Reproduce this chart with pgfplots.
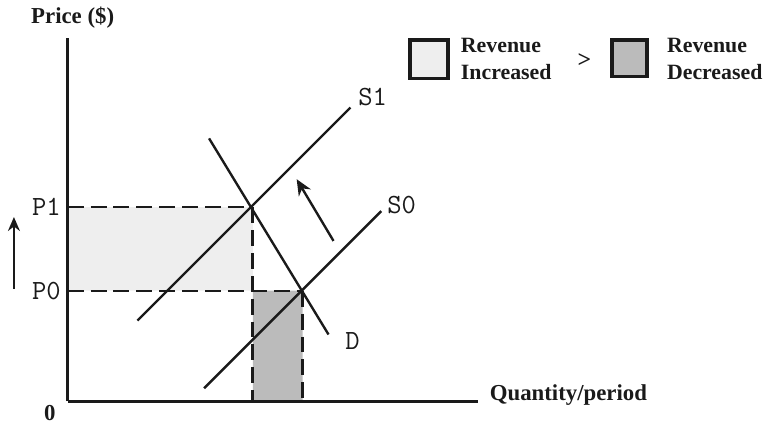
\documentclass[border=0pt]{standalone}
\usepackage{fontspec}
\setmainfont{Liberation Serif}
\usepackage{pgfplots}
\pgfplotsset{compat=1.18}
\usetikzlibrary{arrows.meta}
\definecolor{lightfill}{HTML}{EEEEEE}
\definecolor{darkfill}{HTML}{BBBBBB}
\definecolor{ink}{HTML}{1A1A1A}
\newcommand{\curvefont}{\ttfamily\fontsize{14}{14}\selectfont}

\begin{document}
\begin{tikzpicture}
\begin{axis}[
  scale only axis, width=206bp, height=182.5bp,
  xmin=0, xmax=412, ymin=0, ymax=365,
  axis lines=left, axis line style={-, line width=1.7pt, ink},
  axis on top,
  xtick=\empty, ytick={111,195}, yticklabels={P0,P1},
  major tick length=0pt,
  yticklabel style={font=\curvefont, text=ink},
  clip=false,
]
% page frame in the reference's proportions
\path (axis cs:-68,-22) rectangle (axis cs:701,403);

% revenue areas
\addplot[fill=lightfill, draw=none] coordinates {(0,111) (186,111) (186,195) (0,195) (0,111)};
\addplot[fill=darkfill, draw=none] coordinates {(186,0) (236,0) (236,111) (186,111) (186,0)};

% dashed guides
\addplot[ink, line width=1.2pt, dash pattern=on 8bp off 3.5bp] coordinates {(0,195) (186,195)};
\addplot[ink, line width=1.2pt, dash pattern=on 8bp off 3.5bp] coordinates {(0,111) (236,111)};
\addplot[ink, line width=1.5pt, dash pattern=on 8bp off 3.5bp] coordinates {(186,195) (186,0)};
\addplot[ink, line width=1.5pt, dash pattern=on 8bp off 3.5bp] coordinates {(236,111) (236,0)};

% supply and demand
\addplot[ink, line width=1.2pt] coordinates {(70,81) (284,295)};   % S1
\addplot[ink, line width=1.2pt] coordinates {(137,13) (315,191)};  % S0
\addplot[ink, line width=1.2pt] coordinates {(142,264) (262,67)};  % D

% shift arrows
\addplot[ink, line width=1.2pt, -{Stealth[length=8bp,width=7bp]}] coordinates {(267,161) (230,223)};
\addplot[ink, line width=1.1pt, -{Stealth[length=7bp,width=6bp]}] coordinates {(-54,113) (-54,185)};

% legend boxes
\addplot[fill=lightfill, draw=ink, line width=1.8pt, line cap=rect] coordinates {(344,324) (382,324) (382,363) (344,363) (344,324)};
\addplot[fill=darkfill, draw=ink, line width=1.8pt, line cap=rect] coordinates {(547,326) (582,326) (582,363) (547,363) (547,326)};

% labels
\node[anchor=west, font=\curvefont, text=ink] at (axis cs:285,306) {S1};
\node[anchor=west, font=\curvefont, text=ink] at (axis cs:314,197) {S0};
\node[font=\curvefont, text=ink] at (axis cs:286,60) {D};
\node[font=\bfseries\fontsize{11.5}{12}\selectfont, text=ink] at (axis cs:5,385) {Price (\$)};
\node[anchor=west, font=\bfseries\fontsize{11.5}{12}\selectfont, text=ink] at (axis cs:417,6) {Quantity/period};
\node[font=\bfseries\fontsize{11.5}{12}\selectfont, text=ink] at (axis cs:-18,-12) {0};
\node[anchor=west, align=left, font=\bfseries\fontsize{11}{13.5}\selectfont, text=ink] at (axis cs:388,344) {Revenue\\Increased};
\node[font=\bfseries\fontsize{12}{12}\selectfont, text=ink] at (axis cs:519,342) {>};
\node[anchor=west, align=left, font=\bfseries\fontsize{11}{13.5}\selectfont, text=ink] at (axis cs:595,344) {Revenue\\Decreased};
\end{axis}
\end{tikzpicture}
\end{document}
